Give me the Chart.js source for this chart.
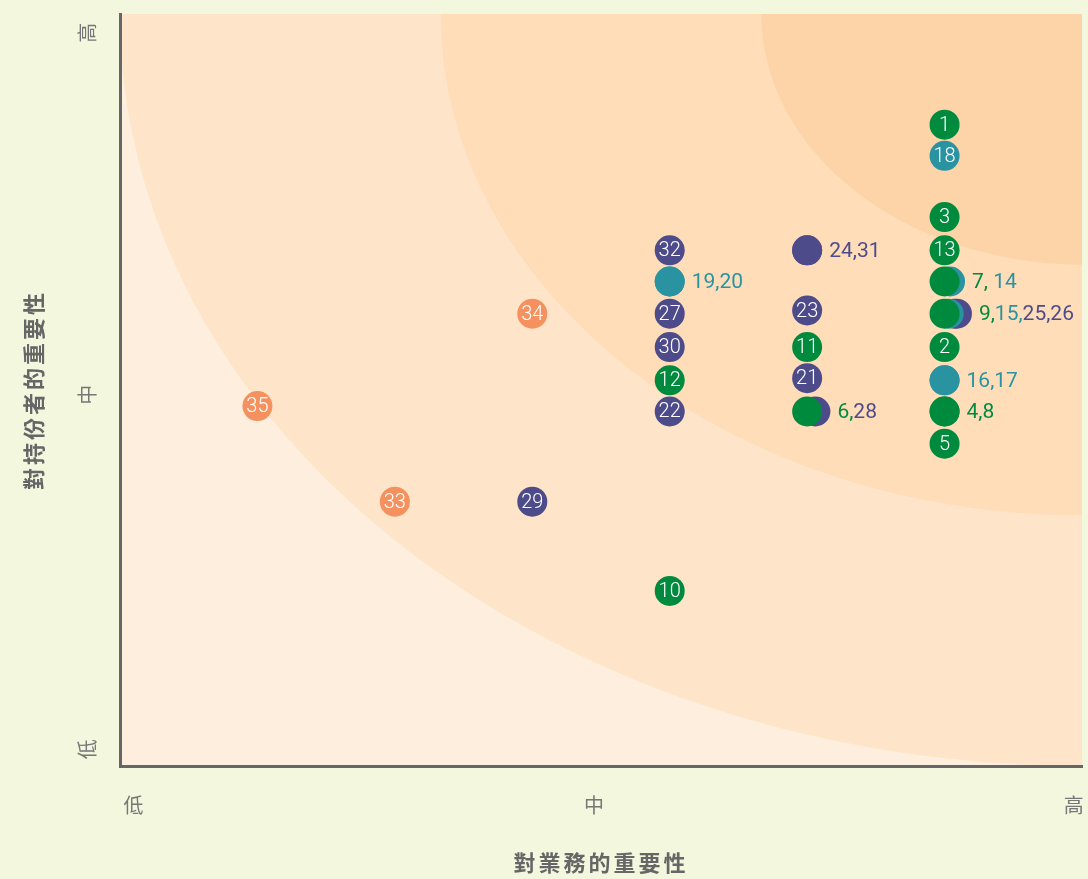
<!DOCTYPE html>
<html>
<head>
<meta charset="utf-8">
<script src="https://cdn.jsdelivr.net/npm/chart.js@4.4.1/dist/chart.umd.min.js"></script>
<style>
  html, body { margin: 0; padding: 0; background: #f2f7de; }
  #wrap { width: 1088px; height: 879px; }
</style>
</head>
<body>
<div id="wrap"><canvas id="chart" width="1088" height="879"></canvas></div>
<script>
// 議題 1-35：x = 對業務的重要性, y = 對持份者的重要性
const issueIds = [1, 2, 3, 4, 5, 6, 7, 8, 9, 10, 11, 12, 13, 14, 15, 16, 17, 18,
    19, 20, 21, 22, 23, 24, 25, 26, 27, 28, 29, 30, 31, 32, 33, 34, 35];
const businessScore = [6, 6, 6, 6, 6, 5, 6, 6, 6, 4, 5, 4, 6, 6.04, 6.03, 6, 6, 6,
    4, 4, 5, 4, 5, 5, 6.07, 6.09, 4, 5.06, 3, 4, 5, 4, 2, 3, 1];
const stakeholderScore = [5.97, 3.9, 5.11, 3.3, 3.0, 3.3, 4.51, 3.3, 4.21, 1.63, 3.9, 3.59, 4.8, 4.51, 4.21, 3.59, 3.59, 5.68,
    4.51, 4.51, 3.61, 3.3, 4.24, 4.8, 4.21, 4.21, 4.21, 3.3, 2.46, 3.9, 4.8, 4.8, 2.46, 4.21, 3.35];

// groups (by colour)
const greenIds = [1, 2, 3, 4, 5, 6, 7, 8, 9, 10, 11, 12, 13];
const tealIds = [14, 15, 16, 17, 18, 19, 20];
const purpleIds = [21, 22, 23, 24, 25, 26, 27, 28, 29, 30, 31, 32];
const orangeIds = [33, 34, 35];

// overlapping issues get an outside label
const clusterLabels = ['19,20', '24,31', '7, 14', '9,15,25,26', '16,17', '4,8', '6,28'];

const xTickValues = [0.11, 3.46, 6.95];
const xTickLabels = ['低', '中', '高'];
const yTickValues = [0.17, 3.47, 6.84];
const yTickLabels = ['低', '中', '高'];

const PAGE_BG = '#f2f7de';
const BAND_COLORS = ['#feeedd', '#fee5ca', '#feddb8', '#fdd4a8'];
const BAND_SIZES = [1, 2 / 3, 1 / 3];
const POINT_RADIUS = 15;
const LABEL_GAP = 7;
const CJK = '"Noto Sans CJK TC", "Noto Sans", sans-serif';
const IN_FONT = '300 20px Roboto, "Noto Sans", sans-serif';
const OUT_FONT = '21px Roboto, "Noto Sans", sans-serif';

const groups = [
    { ids: greenIds, color: '#008a3e' },
    { ids: tealIds, color: '#2a93a1' },
    { ids: purpleIds, color: '#4d4b8a' },
    { ids: orangeIds, color: '#f4915f' }
];

function colorOf(id) {
    const g = groups.find(g => g.ids.includes(id));
    return g ? g.color : '#000';
}

const datasets = groups.map(g => ({
    data: g.ids.map(id => ({ x: businessScore[id - 1], y: stakeholderScore[id - 1] })),
    backgroundColor: g.color,
    pointRadius: POINT_RADIUS,
    pointHoverRadius: POINT_RADIUS,
    pointBorderWidth: 0,
    pointHoverBorderWidth: 0
}));

// background quarter-ellipses from the top-right corner
const bandPlugin = {
    id: 'bands',
    beforeDraw(chart) {
        const { ctx, chartArea: a, width, height } = chart;
        ctx.save();
        ctx.fillStyle = PAGE_BG;
        ctx.fillRect(0, 0, width, height);
        ctx.beginPath();
        ctx.rect(a.left, a.top, a.width, a.height);
        ctx.clip();
        ctx.fillStyle = BAND_COLORS[0];
        ctx.fillRect(a.left, a.top, a.width, a.height);
        BAND_SIZES.forEach((k, i) => {
            ctx.fillStyle = BAND_COLORS[i + 1];
            ctx.beginPath();
            ctx.ellipse(a.right, a.top, a.width * k, a.height * k, 0, 0, Math.PI * 2);
            ctx.fill();
        });
        ctx.restore();
        ctx.letterSpacing = '3px'; // for the axis titles
    }
};

const labelPlugin = {
    id: 'issueLabels',
    afterDatasetsDraw(chart) {
        const { ctx } = chart;
        const x = chart.scales.x, y = chart.scales.y;
        ctx.save();
        ctx.letterSpacing = '0px';
        ctx.textBaseline = 'middle';

        const clustered = new Set();
        ctx.font = OUT_FONT;
        clusterLabels.forEach(text => {
            const parts = text.split(/(\d+)/).filter(s => s !== '');
            const members = parts.filter(p => /^\d+$/.test(p)).map(Number);
            members.forEach(id => clustered.add(id));
            const px = Math.max(...members.map(id => x.getPixelForValue(businessScore[id - 1])));
            const py = y.getPixelForValue(stakeholderScore[members[0] - 1]);
            let cx = px + POINT_RADIUS + LABEL_GAP;
            let color = colorOf(members[0]);
            ctx.textAlign = 'left';
            parts.forEach(p => {
                if (/^\d+$/.test(p)) color = colorOf(Number(p));
                ctx.fillStyle = color;
                ctx.fillText(p, cx, py + 1);
                cx += ctx.measureText(p).width;
            });
        });

        ctx.font = IN_FONT;
        ctx.fillStyle = '#ffffff';
        ctx.textAlign = 'center';
        issueIds.forEach((id, i) => {
            if (clustered.has(id)) return;
            ctx.fillText(String(id), x.getPixelForValue(businessScore[i]), y.getPixelForValue(stakeholderScore[i]) + 1);
        });
        ctx.restore();
    }
};

new Chart(document.getElementById('chart'), {
    type: 'scatter',
    data: { datasets },
    options: {
        responsive: false,
        animation: false,
        events: [],
        layout: { autoPadding: false, padding: { top: 14, right: 6, bottom: 0, left: 0 } },
        plugins: { legend: { display: false }, tooltip: { enabled: false } },
        scales: {
            x: {
                type: 'linear',
                min: 0,
                max: 7,
                afterBuildTicks: s => { s.ticks = xTickValues.map(v => ({ value: v })); },
                afterFit: s => { s.height = 113; s.paddingLeft = 0; s.paddingRight = 0; },
                grid: { display: true, drawOnChartArea: false, drawTicks: true, tickLength: 25, tickColor: 'rgba(0,0,0,0)' },
                border: { display: true, color: '#666666', width: 3 },
                ticks: {
                    padding: 2,
                    color: '#777777',
                    autoSkip: false,
                    maxRotation: 0,
                    font: { family: CJK, size: 20 },
                    callback: (v, i) => xTickLabels[i]
                },
                title: {
                    display: true,
                    text: '對業務的重要性',
                    color: '#666666',
                    font: { family: CJK, size: 22, weight: 'bold' },
                    padding: { top: 0, bottom: 3 }
                }
            },
            y: {
                type: 'linear',
                min: 0,
                max: 7,
                afterBuildTicks: s => { s.ticks = yTickValues.map(v => ({ value: v })); },
                afterFit: s => { s.width = 120; s.paddingTop = 0; s.paddingBottom = 0; },
                grid: { display: true, drawOnChartArea: false, drawTicks: true, tickLength: 21, tickColor: 'rgba(0,0,0,0)' },
                border: { display: true, color: '#666666', width: 3 },
                ticks: {
                    padding: 2,
                    color: '#777777',
                    minRotation: 90,
                    maxRotation: 90,
                    crossAlign: 'center',
                    autoSkip: false,
                    font: { family: CJK, size: 20 },
                    callback: (v, i) => yTickLabels[i]
                },
                title: {
                    display: true,
                    text: '對持份者的重要性',
                    color: '#666666',
                    font: { family: CJK, size: 22, weight: 'bold' },
                    padding: { top: 20, bottom: 0 }
                }
            }
        }
    },
    plugins: [bandPlugin, labelPlugin]
});
</script>
</body>
</html>
